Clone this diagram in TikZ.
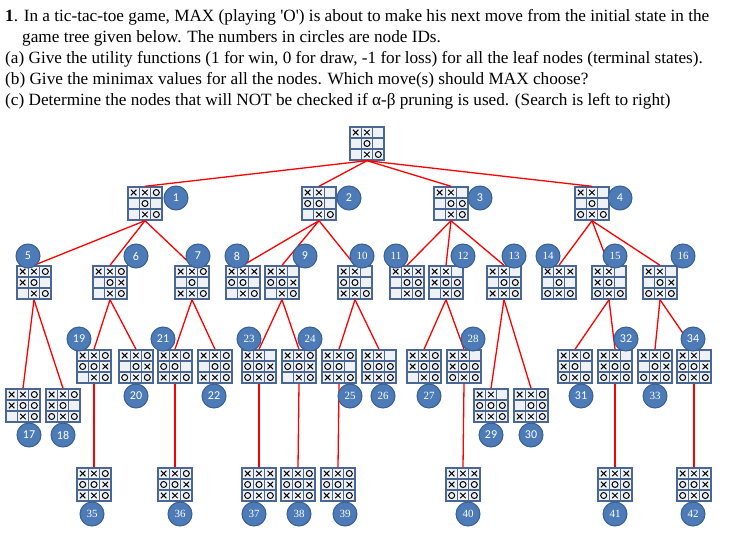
\documentclass[tikz,border=0pt]{standalone}
\usepackage{fontspec}
\setmainfont{Liberation Serif}
\newfontfamily\sansf{Carlito}
\begin{document}
\begin{tikzpicture}[x=1pt,y=-1pt,
  edge/.style={red,line width=1.3pt},
  idc/.style={circle,fill=idfill,draw=idline,line width=1pt,minimum size=24pt,inner sep=0pt,text=white,font=\sansf\fontsize{12}{12}\selectfont},
  ids/.style={idc,font=\fontsize{11}{11}\selectfont},
  txt/.style={anchor=base west,inner sep=0pt,font=\fontsize{17.2}{19}\selectfont}]
\definecolor{idfill}{HTML}{4C7BB8}
\definecolor{idline}{HTML}{39608F}
\definecolor{gridc}{HTML}{4A6794}
\definecolor{cellc}{HTML}{EEF2F7}
\useasboundingbox (0,0) rectangle (741,559);
\newcommand\tttboard[4]{%
  \node[minimum size=34pt,inner sep=0pt] (#1) at (#2+17,#3+16.5) {};
  \foreach \s [count=\i from 0] in {#4}{%
    \pgfmathtruncatemacro\cc{mod(\i,3)}%
    \pgfmathtruncatemacro\rr{int(\i/3)}%
    \draw[gridc,line width=1.1pt,fill=cellc] (#2+\cc*11.33,#3+\rr*11) rectangle ++(11.33,11);
    \if\s X\draw[black,line width=1pt] (#2+\cc*11.33+2.9,#3+\rr*11+2.8) -- ++(5.5,5.4) (#2+\cc*11.33+8.4,#3+\rr*11+2.8) -- ++(-5.5,5.4);\fi
    \if\s O\draw[black,line width=1pt] (#2+\cc*11.33+5.67,#3+\rr*11+5.5) circle (3);\fi
  }%
  \draw[gridc,line width=1.4pt] (#2,#3) rectangle ++(34,33);
}
% text
\node[txt] (t1) at (5,22) {\textbf{1}. In a tic-tac-toe game, MAX (playing \textquotesingle O\textquotesingle) is about to make his next move from the initial state in the};
\node[txt] (t2) at (22,43) {game tree given below. The numbers in circles are node IDs.};
\node[txt] (t3) at (5,64) {(a) Give the utility functions (1 for win, 0 for draw, -1 for loss) for all the leaf nodes (terminal states).};
\node[txt] (t4) at (5,85) {(b) Give the minimax values for all the nodes. Which move(s) should MAX choose?};
\node[txt] (t5) at (5,106) {(c) Determine the nodes that will NOT be checked if α-β pruning is used. (Search is left to right)};
% boards
\tttboard{b0}{350}{127}{X,X,N,N,O,N,N,X,O}
\tttboard{b1}{128}{187}{X,X,O,N,O,N,N,X,O}
\tttboard{b2}{302}{187}{X,X,N,O,O,N,N,X,O}
\tttboard{b3}{434}{187}{X,X,N,N,O,O,N,X,O}
\tttboard{b4}{575}{187}{X,X,N,N,O,N,O,X,O}
\tttboard{b5}{17}{266}{X,X,O,X,O,N,N,X,O}
\tttboard{b6}{93}{266}{X,X,O,N,O,X,N,X,O}
\tttboard{b7}{175}{266}{X,X,O,N,O,N,X,X,O}
\tttboard{b8}{226}{266}{X,X,X,O,O,N,N,X,O}
\tttboard{b9}{265}{266}{X,X,N,O,O,X,N,X,O}
\tttboard{b10}{338}{266}{X,X,N,O,O,N,X,X,O}
\tttboard{b11}{390}{266}{X,X,X,N,O,O,N,X,O}
\tttboard{b12}{429}{266}{X,X,N,X,O,O,N,X,O}
\tttboard{b13}{487}{266}{X,X,N,N,O,O,X,X,O}
\tttboard{b14}{542}{266}{X,X,X,N,O,N,O,X,O}
\tttboard{b15}{592}{266}{X,X,N,X,O,N,O,X,O}
\tttboard{b16}{643}{266}{X,X,N,N,O,X,O,X,O}
\tttboard{b19}{77}{350}{X,X,O,O,O,X,N,X,O}
\tttboard{b20}{119}{350}{X,X,O,N,O,X,O,X,O}
\tttboard{b21}{158}{350}{X,X,O,O,O,N,X,X,O}
\tttboard{b22}{198}{350}{X,X,O,N,O,O,X,X,O}
\tttboard{b23}{242}{350}{X,X,N,O,O,X,O,X,O}
\tttboard{b24}{282}{350}{X,X,O,O,O,X,N,X,O}
\tttboard{b25}{322}{350}{X,X,O,O,O,N,X,X,O}
\tttboard{b26}{362}{350}{X,X,N,O,O,O,X,X,O}
\tttboard{b27}{407}{350}{X,X,O,X,O,O,N,X,O}
\tttboard{b28}{447}{350}{X,X,N,X,O,O,O,X,O}
\tttboard{b31}{558}{350}{X,X,O,X,O,N,O,X,O}
\tttboard{b32}{598}{350}{X,X,N,X,O,O,O,X,O}
\tttboard{b33}{638}{350}{X,X,O,N,O,X,O,X,O}
\tttboard{b34}{677}{350}{X,X,N,O,O,X,O,X,O}
\tttboard{b17}{6}{389}{X,X,O,X,O,O,N,X,O}
\tttboard{b18}{46}{389}{X,X,O,X,O,N,O,X,O}
\tttboard{b29}{474}{389}{X,X,N,O,O,O,X,X,O}
\tttboard{b30}{514}{389}{X,X,O,N,O,O,X,X,O}
\tttboard{b35}{77}{468}{X,X,O,O,O,X,X,X,O}
\tttboard{b36}{158}{468}{X,X,O,O,O,X,X,X,O}
\tttboard{b37}{242}{468}{X,X,X,O,O,X,O,X,O}
\tttboard{b38}{281}{468}{X,X,O,O,O,X,X,X,O}
\tttboard{b39}{321}{468}{X,X,O,O,O,X,X,X,O}
\tttboard{b40}{446}{468}{X,X,X,X,O,O,O,X,O}
\tttboard{b41}{598}{468}{X,X,X,X,O,O,O,X,O}
\tttboard{b42}{677}{468}{X,X,X,O,O,X,O,X,O}
% edges
\foreach \p/\c in {b0/b1,b0/b2,b0/b3,b0/b4,b1/b5,b1/b6,b1/b7,b2/b8,b2/b9,b2/b10,
  b3/b11,b3/b12,b3/b13,b4/b14,b4/b15,b4/b16,b5/b17,b5/b18,b6/b19,b6/b20,b7/b21,b7/b22,
  b9/b23,b9/b24,b10/b25,b10/b26,b12/b27,b12/b28,b13/b29,b13/b30,b15/b31,b15/b32,
  b16/b33,b16/b34,b19/b35,b21/b36,b23/b37,b24/b38,b25/b39,b28/b40,b32/b41,b34/b42}
  \draw[edge] (\p.south) -- (\c.north);
% id circles
\foreach \n/\x/\y in {1/176/198,2/349/198,3/480/198,4/620/198,5/28/256,6/136/256,7/198/256,8/237/256,9/305/256,
  17/29/435,18/63/435,19/79/339,20/136/396,21/163/339,22/214/396,29/491/435,30/531/435,31/581/396,32/626/339,34/693/339}
  \node[idc] (c\n) at (\x,\y) {\n};
\foreach \n/\x/\y in {10/362/256,11/396/256,12/463/256,13/514/256,14/548/256,15/615/256,16/683/256,
  23/249/339,24/310/339,25/350/396,26/383/396,27/429/396,28/473/339,33/655/396,
  35/92/514,36/180/514,37/254/514,38/299/514,39/345/514,40/468/514,41/615/514,42/693/514}
  \node[ids] (c\n) at (\x,\y) {\n};
\end{tikzpicture}
\end{document}
